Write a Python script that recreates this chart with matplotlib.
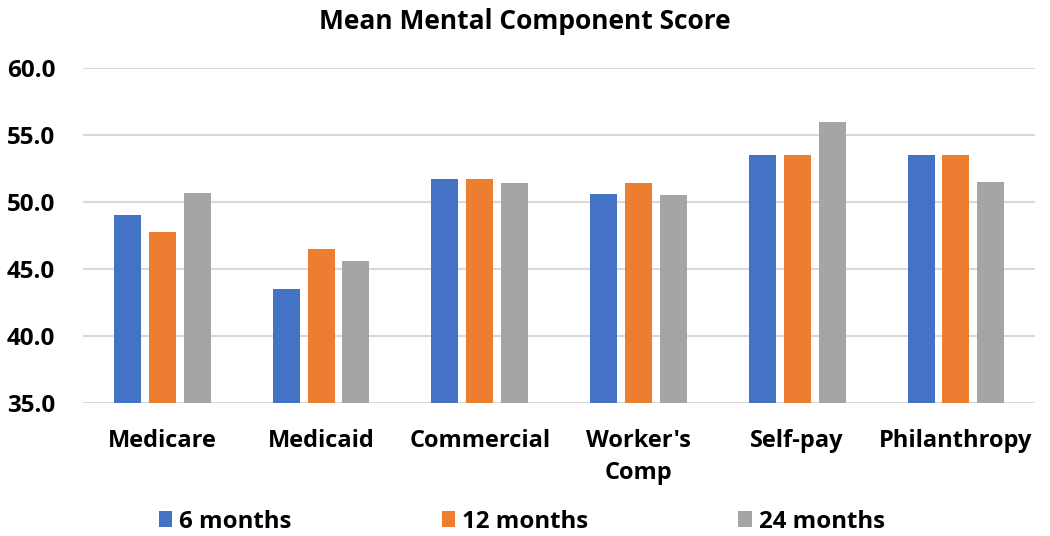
import numpy as np
import matplotlib.pyplot as plt

categories = ['Medicare', 'Medicaid', 'Commercial', "Worker's\nComp", 'Self-pay', 'Philanthropy']
series_names = ['6 months', '12 months', '24 months']
six_months = [49.0, 43.5, 51.7, 50.6, 53.5, 53.5]
twelve_months = [47.8, 46.5, 51.7, 51.4, 53.5, 53.5]
twentyfour_months = [50.7, 45.6, 51.4, 50.5, 56.0, 51.5]
colors = ['#4472C4', '#ED7D31', '#A5A5A5']

plt.rcParams['font.family'] = ['Open Sans', 'DejaVu Sans']
plt.rcParams['font.weight'] = 'bold'

fig = plt.figure(figsize=(10.5, 5.36), dpi=100)
ax = fig.add_axes([0.079, 0.248, 0.907, 0.625])

x = np.arange(len(categories))
width = 0.17
step = 0.22
for i, (vals, name) in enumerate(zip([six_months, twelve_months, twentyfour_months], series_names)):
    ax.bar(x + (i - 1) * step, vals, width, color=colors[i], label=name, zorder=3)

ax.set_ylim(35, 60)
ax.set_xlim(-0.5, len(categories) - 0.5)
ax.set_yticks(np.arange(35, 60.1, 5))
ax.set_yticklabels([f'{v:.1f}' for v in np.arange(35, 60.1, 5)], fontsize=17.5, fontweight='bold')
ax.set_xticks(x)
ax.set_xticklabels(categories, fontsize=17, fontweight='bold', linespacing=1.4)
ax.tick_params(axis='both', length=0)
ax.tick_params(axis='y', pad=20)
ax.tick_params(axis='x', pad=19)
ax.grid(axis='y', color='#d9d9d9', linewidth=1.5, zorder=0)
for s in ax.spines.values():
    s.set_visible(False)

fig.suptitle('Mean Mental Component Score', fontsize=19, fontweight='bold', x=0.5, y=0.985)

fig.legend(loc='lower center', bbox_to_anchor=(0.497, -0.036), ncol=3, frameon=False,
           fontsize=17.3, handlelength=0.55, handleheight=0.65, handletextpad=0.3,
           columnspacing=6.25)

fig.savefig('out.png', dpi=100)
